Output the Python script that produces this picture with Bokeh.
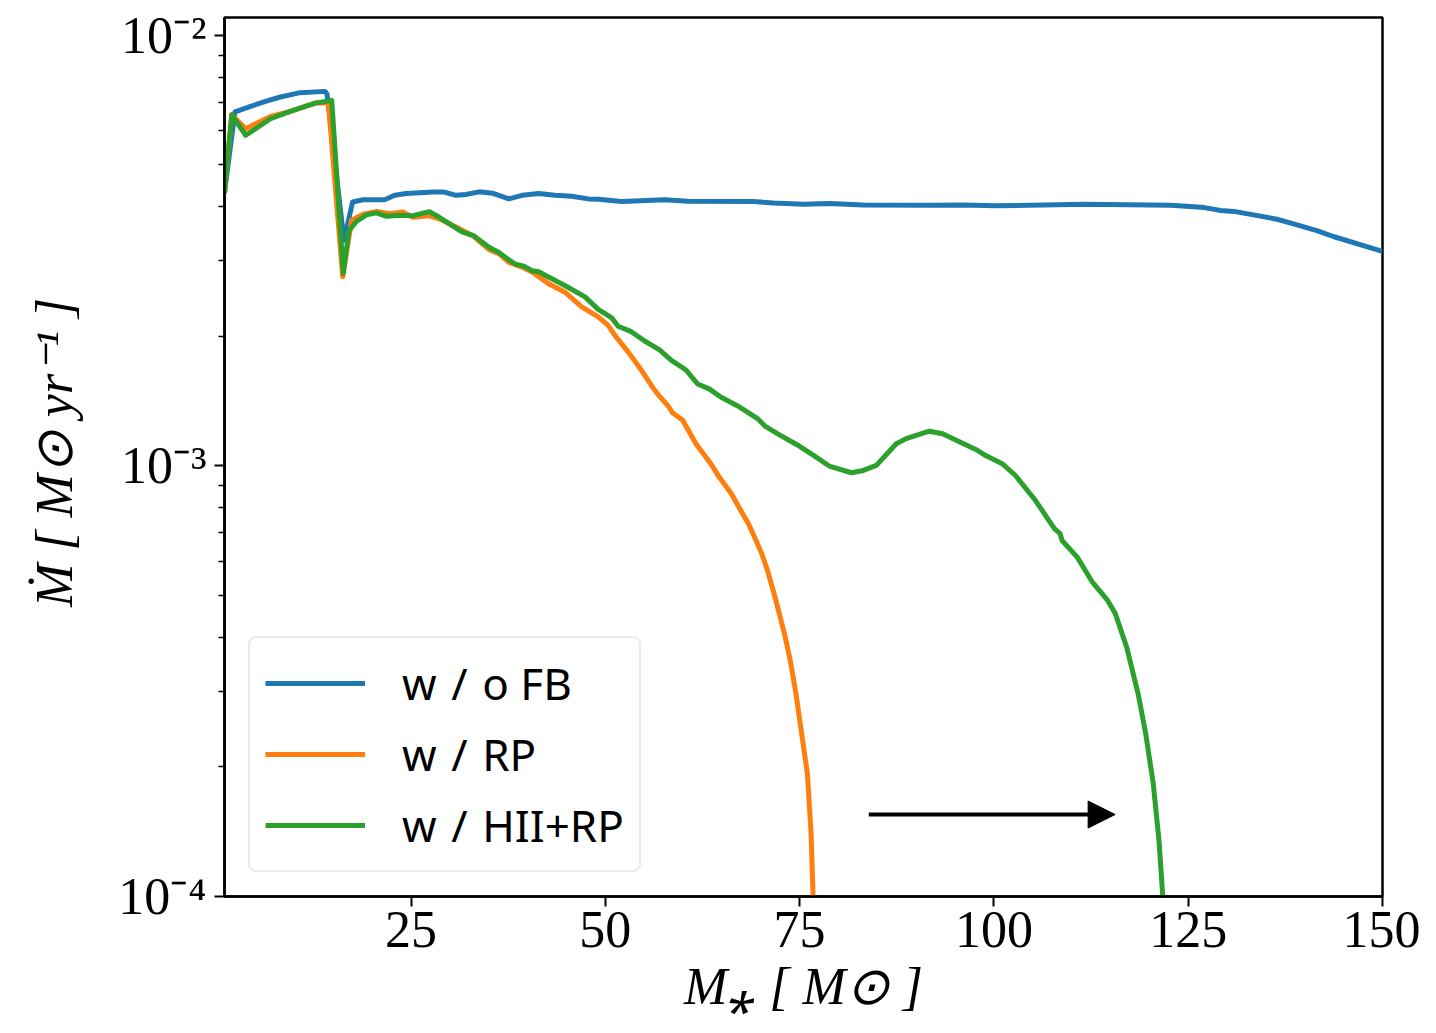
from bokeh.plotting import figure
from bokeh.models import Range1d, FixedTicker, Arrow, NormalHead
from bokeh.embed import file_html
from bokeh.resources import INLINE

# ---------------- data ----------------
blue_x = [1.0, 2.35, 4.36, 6.49, 8.19, 10.75, 13.94, 14.2, 16.37, 17.48, 18.84, 21.61, 22.89,
          24.39, 27.79, 29.28, 30.78, 32.06, 33.76, 35.46, 37.59, 39.29, 41.42, 43.56, 45.68,
          47.81, 49.09, 52.07, 57.62, 60.60, 69.12, 71.68, 75.51, 78.91, 83.18, 91.69, 95.96,
          100.22, 111.72, 122.80, 127.10, 129.19, 130.9, 136.43, 138.56, 141.54, 143.67, 150.0]
blue_y = [4.32, 6.64, 6.84, 7.04, 7.19, 7.36, 7.41, 7.30, 3.34, 4.10, 4.15, 4.15, 4.25,
          4.29, 4.325, 4.325, 4.25, 4.27, 4.33, 4.30, 4.17, 4.25, 4.29, 4.25, 4.23,
          4.17, 4.16, 4.11, 4.15, 4.12, 4.11, 4.08, 4.05, 4.07, 4.035, 4.03, 4.035,
          4.02, 4.05, 4.03, 3.98, 3.92, 3.90, 3.74, 3.65, 3.52, 3.41, 3.15]

orange_x = [1.0, 1.93, 3.72, 6.92, 9.47, 12.67, 14.37, 16.21, 17.36, 18.84, 20.55, 22.25, 23.95,
            25.23, 27.36, 28.64, 30.78, 32.90, 35.03, 36.31, 37.59, 39.29, 40.57, 42.70, 44.84,
            46.96, 49.09, 50.37, 51.23, 52.93, 54.63, 56.12, 56.76, 58.04, 58.68, 59.96, 61.66,
            63.57, 64.65, 66.22, 67.43, 68.42, 69.39, 70.13, 70.86, 71.84, 73.06, 73.80, 74.53,
            75.26, 76.00, 76.48, 76.73, 76.85]
orange_y = [4.30, 6.54, 6.07, 6.48, 6.66, 6.96, 6.96, 2.75, 3.72, 3.84, 3.90, 3.85, 3.89,
            3.78, 3.81, 3.75, 3.59, 3.43, 3.18, 3.11, 2.97, 2.895, 2.82, 2.65, 2.53,
            2.34, 2.22, 2.12, 2.01, 1.84, 1.67, 1.52, 1.466, 1.38, 1.327, 1.276, 1.126,
            1.012, 0.942, 0.862, 0.788, 0.734, 0.671, 0.625, 0.572, 0.496, 0.407, 0.353, 0.296,
            0.239, 0.193, 0.140, 0.100, 0.085]

green_x = [1.0, 1.93, 3.72, 6.92, 9.47, 12.67, 14.80, 16.28, 17.01, 18.0, 19.27, 20.55, 21.83,
           23.53, 25.23, 27.36, 28.64, 30.34, 31.62, 33.12, 35.03, 36.31, 37.59, 38.45, 39.51,
           40.57, 41.42, 43.12, 44.84, 47.39, 49.09, 50.79, 51.65, 53.35, 55.06, 56.98, 58.46,
           60.38, 61.87, 63.37, 64.85, 66.98, 69.54, 70.60, 72.52, 74.66, 76.79, 78.91, 81.69,
           83.18, 84.88, 87.44, 88.71, 91.69, 93.40, 97.66, 98.94, 101.07, 102.77, 105.33,
           107.78, 108.52, 108.77, 110.72, 112.68, 114.63, 115.62, 117.09, 118.55, 119.53,
           120.50, 121.24, 121.73, 121.85]
green_y = [4.30, 6.54, 5.86, 6.40, 6.66, 6.96, 7.06, 2.80, 3.52, 3.70, 3.83, 3.87, 3.80,
           3.82, 3.81, 3.895, 3.78, 3.61, 3.49, 3.42, 3.22, 3.13, 3.01, 2.94, 2.91,
           2.84, 2.825, 2.72, 2.62, 2.47, 2.31, 2.21, 2.11, 2.05, 1.95, 1.86, 1.76,
           1.67, 1.55, 1.51, 1.445, 1.38, 1.29, 1.235, 1.178, 1.12, 1.058, 0.997, 0.964,
           0.976, 1.003, 1.126, 1.157, 1.204, 1.188, 1.092, 1.057, 1.012, 0.950, 0.832,
           0.715, 0.696, 0.671, 0.614, 0.537, 0.487, 0.454, 0.379, 0.296, 0.239,
           0.183, 0.135, 0.100, 0.090]
y_scale = 1e-3  # series values above are in units of 1e-3 Msun/yr

series_labels = ["w\u2004/\u2004o FB", "w\u2004/\u2004RP", "w\u2004/\u2004HII+RP"]
series_colors = ["#1f77b4", "#ff7f0e", "#2ca02c"]

x_ticks = [25, 50, 75, 100, 125, 150]
y_ticks = [1e-4, 1e-3, 1e-2]
y_tick_labels = ["10\u207b\u2074", "10\u207b\u00b3", "10\u207b\u00b2"]
y_minor_ticks = [2e-4, 3e-4, 4e-4, 5e-4, 6e-4, 7e-4, 8e-4, 9e-4,
                 2e-3, 3e-3, 4e-3, 5e-3, 6e-3, 7e-3, 8e-3, 9e-3]

arrow_x = [83.9, 115.6]
arrow_y = [1.55e-4, 1.55e-4]

x_label = "M\u204e [ M\u2299 ]"
y_label = "\u1e40 [ M\u2299 yr\u207b\u00b9 ]"

# ---------------- figure ----------------
p = figure(width=1420, height=1017, y_axis_type="log",
           x_range=Range1d(1, 150), y_range=Range1d(1e-4, 1.1e-2),
           output_backend="svg", toolbar_location=None,
           min_border_left=224, min_border_right=38, min_border_top=17, min_border_bottom=121)

p.grid.visible = False
p.outline_line_color = "black"
p.outline_line_width = 2.5
p.outline_line_alpha = 1.0
p.background_fill_color = "white"
p.border_fill_color = "white"

for xs, ys, lab, col in zip([blue_x, orange_x, green_x], [blue_y, orange_y, green_y],
                            series_labels, series_colors):
    p.line(xs, [v * y_scale for v in ys], line_color=col, line_width=5,
           line_join="round", legend_label=lab)

p.add_layout(Arrow(end=NormalHead(size=27, fill_color="black", line_color="black", line_width=1),
                   x_start=arrow_x[0], y_start=arrow_y[0], x_end=arrow_x[1], y_end=arrow_y[1],
                   line_color="black", line_width=4))

# axes
p.xaxis.ticker = FixedTicker(ticks=x_ticks)
p.yaxis.ticker = FixedTicker(ticks=y_ticks, minor_ticks=y_minor_ticks)
p.yaxis.major_label_overrides = dict(zip(y_ticks, y_tick_labels))

for ax in (p.xaxis, p.yaxis):
    ax.axis_line_width = 2.5
    ax.axis_line_color = "black"
    ax.major_tick_line_width = 2
    ax.major_tick_line_color = "black"
    ax.major_tick_out = 10
    ax.major_tick_in = 0
    ax.minor_tick_line_width = 1.5
    ax.minor_tick_line_color = "black"
    ax.minor_tick_out = 6
    ax.minor_tick_in = 0
    ax.major_label_text_font = "Liberation Serif"
    ax.major_label_text_font_size = "52px"
    ax.major_label_text_color = "black"
    ax.axis_label_text_font = "Liberation Serif"
    ax.axis_label_text_font_size = "52px"
    ax.axis_label_text_font_style = "italic"
    ax.axis_label_text_color = "black"

p.xaxis.minor_tick_line_color = None
p.xaxis.axis_label = x_label
p.yaxis.axis_label = y_label
p.xaxis.major_label_standoff = 5
p.yaxis.major_label_standoff = 8
p.xaxis.axis_label_standoff = 8
p.yaxis.axis_label_standoff = 32

# legend
lg = p.legend[0]
lg.location = (24, 24)
lg.label_text_font = "Noto Sans"
lg.label_text_font_size = "44px"
lg.label_text_color = "black"
lg.glyph_width = 100
lg.glyph_height = 50
lg.label_height = 50
lg.label_standoff = 37
lg.spacing = 11
lg.padding = 15
lg.margin = 0
lg.border_line_color = "#d5d5d5"
lg.border_line_width = 2.5
lg.background_fill_color = "white"
lg.background_fill_alpha = 0.8
try:
    lg.border_radius = 8
except Exception:
    pass

open("out.html", "w").write(file_html(p, INLINE))
